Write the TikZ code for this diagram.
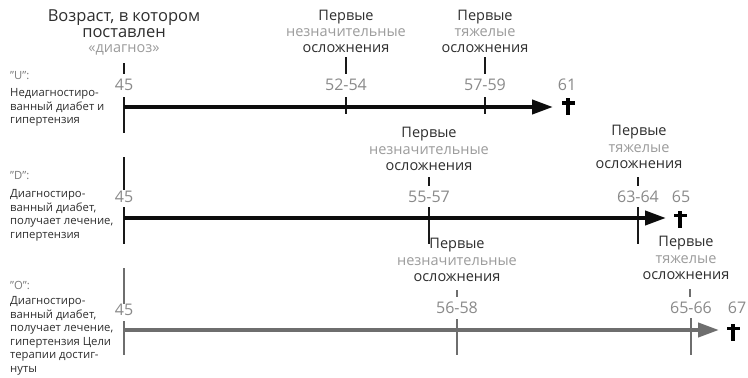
\documentclass[tikz,border=0pt]{standalone}
\usepackage{fontspec}
\setmainfont{Open Sans}[Ligatures=Common]
\usetikzlibrary{arrows.meta}
\definecolor{dk}{HTML}{2E2E2E}
\definecolor{lt}{HTML}{9C9C9C}
\definecolor{num}{HTML}{8A8A8A}
\definecolor{hdr}{HTML}{7A7A7A}
\definecolor{gline}{HTML}{6E6E6E}
\begin{document}
\begin{tikzpicture}[x=1pt,y=-1pt,
  big/.style={font=\fontsize{14.5}{16}\selectfont, text=dk, inner sep=0, text height=10.5pt, text depth=3pt, anchor=center},
  bigl/.style={big, text=lt},
  ttl/.style={big, font=\fontsize{16.5}{18}\selectfont, text height=11.5pt, text depth=3.5pt},
  numl/.style={font=\fontsize{16}{17}\selectfont, text=num, inner sep=0, text height=11.5pt, text depth=0pt, anchor=center},
  side/.style={font=\fontsize{11.3}{13}\selectfont, text=dk, inner sep=0, text height=8pt, text depth=2.5pt, anchor=west},
  sideh/.style={side, text=hdr},
  tickk/.style={draw=black!90, line width=1.3pt},
  tickg/.style={draw=gline, line width=1.4pt},
  arrk/.style={draw=black!95, line width=4pt, -{Triangle[length=21pt,width=14pt]}},
  arrg/.style={draw=gline, line width=4pt, -{Triangle[length=21pt,width=14pt]}},
  crs/.pic={\fill[black] (-2.2,-8.5) rectangle (2.2,8.5); \fill[black] (-6.5,-5.2) rectangle (6.5,-1.6);}
]
\useasboundingbox (0,0) rectangle (748,378);
\fill[white] (0,0) rectangle (748,378);

% ---------- title ----------
\node[ttl] (t1) at (124,17) {Возраст, в котором};
\node[ttl] (t2) at (124,33) {поставлен};
\node[bigl] (t3) at (124,48.5) {«диагноз»};

% ---------- row U ----------
\node[sideh] (uh) at (10,77) {"U":};
\node[side] (ul1) at (10,94) {Недиагностиро-};
\node[side] (ul2) at (10,107.5) {ванный диабет и};
\node[side] (ul3) at (10,121) {гипертензия};

\coordinate (ua0) at (124,63); \coordinate (ua1) at (124,74);
\draw[tickk] (ua0) -- (ua1);
\node[numl] (u45) at (124,85) {45};
\coordinate (ub0) at (124,97); \coordinate (ub1) at (124,133);
\draw[tickk, line width=1.5pt] (ub0) -- (ub1);

\node[big] (u1a) at (346,17) {Первые};
\node[bigl] (u1b) at (346,33) {незначительные};
\node[big] (u1c) at (346,49) {осложнения};
\coordinate (u1t0) at (346,57); \coordinate (u1t1) at (346,74);
\draw[tickk] (u1t0) -- (u1t1);
\node[numl] (u1n) at (346,85) {52-54};
\coordinate (u1d0) at (346,97); \coordinate (u1d1) at (346,114);
\draw[tickk] (u1d0) -- (u1d1);

\node[big] (u2a) at (485,17) {Первые};
\node[bigl] (u2b) at (485,33) {тяжелые};
\node[big] (u2c) at (485,49) {осложнения};
\coordinate (u2t0) at (485,57); \coordinate (u2t1) at (485,74);
\draw[tickk] (u2t0) -- (u2t1);
\node[numl] (u2n) at (485,85) {57-59};
\coordinate (u2d0) at (485,97); \coordinate (u2d1) at (485,114);
\draw[tickk] (u2d0) -- (u2d1);

\node[numl] (u61) at (567,85) {61};
\coordinate (us) at (124,107); \coordinate (ue) at (553,107);
\draw[arrk] (us) -- (ue);
\pic at (568,106.5) {crs};

% ---------- row D ----------
\node[sideh] (dh) at (10,177) {"D":};
\node[side] (dl1) at (10,195) {Диагностиро-};
\node[side] (dl2) at (10,208.5) {ванный диабет,};
\node[side] (dl3) at (10,222) {получает лечение,};
\node[side] (dl4) at (10,235.5) {гипертензия};

\coordinate (da0) at (124,157); \coordinate (da1) at (124,190);
\draw[tickk, line width=1.5pt] (da0) -- (da1);
\node[numl] (d45) at (124,197) {45};
\coordinate (db0) at (124,207); \coordinate (db1) at (124,244);
\draw[tickk, line width=1.5pt] (db0) -- (db1);

\node[big] (d1a) at (429,134) {Первые};
\node[bigl] (d1b) at (429,151) {незначительные};
\node[big] (d1c) at (429,167) {осложнения};
\coordinate (d1t0) at (429,177); \coordinate (d1t1) at (429,186);
\draw[tickk] (d1t0) -- (d1t1);
\node[numl] (d1n) at (429,197) {55-57};
\coordinate (d1d0) at (429,207); \coordinate (d1d1) at (429,244);
\draw[tickk] (d1d0) -- (d1d1);

\node[big] (d2a) at (639,132) {Первые};
\node[bigl] (d2b) at (639,149) {тяжелые};
\node[big] (d2c) at (639,165) {осложнения};
\coordinate (d2t0) at (638,177); \coordinate (d2t1) at (638,186);
\draw[tickk] (d2t0) -- (d2t1);
\node[numl] (d2n) at (638,197) {63-64};
\coordinate (d2d0) at (638,207); \coordinate (d2d1) at (638,244);
\draw[tickk] (d2d0) -- (d2d1);

\node[numl] (d65) at (681,197) {65};
\coordinate (ds) at (124,218); \coordinate (de) at (666,218);
\draw[arrk] (ds) -- (de);
\pic at (680,219) {crs};

% ---------- row O ----------
\node[sideh] (oh) at (10,287) {"O":};
\node[side] (ol1) at (10,302) {Диагностиро-};
\node[side] (ol2) at (10,315.5) {ванный диабет,};
\node[side] (ol3) at (10,329) {получает лечение,};
\node[side] (ol4) at (10,342.5) {гипертензия Цели};
\node[side] (ol5) at (10,356) {терапии достиг-};
\node[side] (ol6) at (10,369.5) {нуты};

\coordinate (oa0) at (124,268); \coordinate (oa1) at (124,304);
\draw[tickg] (oa0) -- (oa1);
\node[numl] (o45) at (124,310) {45};
\coordinate (ob0) at (124,321); \coordinate (ob1) at (124,355);
\draw[tickg] (ob0) -- (ob1);

\node[big] (o1a) at (457,245) {Первые};
\node[bigl] (o1b) at (457,262) {незначительные};
\node[big] (o1c) at (457,278) {осложнения};
\coordinate (o1t0) at (457,290); \coordinate (o1t1) at (457,297);
\draw[tickg] (o1t0) -- (o1t1);
\node[numl] (o1n) at (457,308) {56-58};
\coordinate (o1d0) at (457,319); \coordinate (o1d1) at (457,355);
\draw[tickg] (o1d0) -- (o1d1);

\node[big] (o2a) at (686,243) {Первые};
\node[bigl] (o2b) at (686,260) {тяжелые};
\node[big] (o2c) at (686,276) {осложнения};
\coordinate (o2t0) at (690,289); \coordinate (o2t1) at (690,297);
\draw[tickg] (o2t0) -- (o2t1);
\node[numl] (o2n) at (691,308) {65-66};
\coordinate (o2d0) at (691,318); \coordinate (o2d1) at (691,355);
\draw[tickg] (o2d0) -- (o2d1);

\node[numl] (o67) at (737,308) {67};
\coordinate (os) at (124,330); \coordinate (oe) at (719,330);
\draw[arrg] (os) -- (oe);
\pic at (733,332) {crs};
\end{tikzpicture}
\end{document}
